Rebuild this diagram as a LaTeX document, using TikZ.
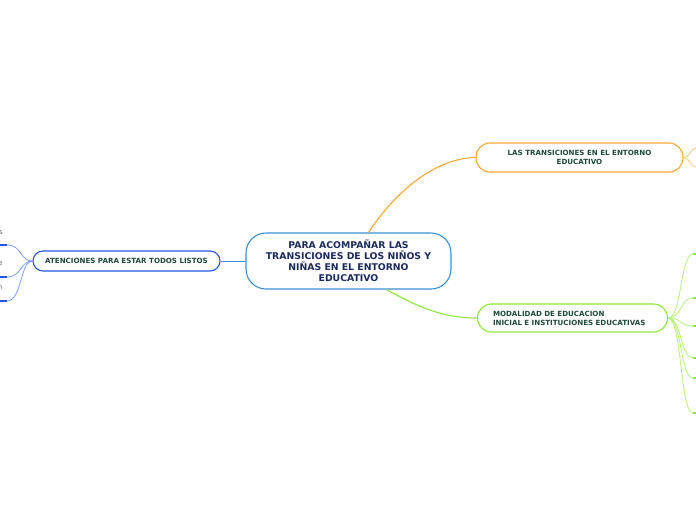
\documentclass[tikz,border=0pt]{standalone}
\usepackage{fontspec}
\setmainfont{DejaVu Sans}
\definecolor{cblue}{HTML}{3A8FD9}
\definecolor{corange}{HTML}{F7A935}
\definecolor{cgreen}{HTML}{8EE83A}
\definecolor{cgreenl}{HTML}{B4F27A}
\definecolor{cdblue}{HTML}{2457E8}
\definecolor{clblue}{HTML}{7F9FFF}
\definecolor{corangel}{HTML}{FAC27A}
\definecolor{tnavy}{HTML}{1B2A5C}
\definecolor{tgreen}{HTML}{1E4A3A}
\begin{document}
\begin{tikzpicture}[x=1pt,y=-1pt,
  mainbox/.style={draw=cblue,line width=1.1pt,fill=white,rounded corners=20pt,
    minimum width=205pt,minimum height=56pt,inner sep=0pt,align=center,text=tnavy,
    font=\bfseries\fontsize{9.3}{11}\selectfont},
  topicbox/.style={line width=1.1pt,fill=white,inner sep=0pt,text=tgreen,
    font=\bfseries\fontsize{7.1}{8.6}\selectfont},
  link/.style={line width=1.1pt},
  sublink/.style={line width=0.8pt},
  stub/.style={line width=1.6pt},
  frag/.style={inner sep=0pt,anchor=east,text=gray!80!black,font=\fontsize{7}{8}\selectfont}
]
\useasboundingbox (0,0) rectangle (696,520);
% central
\node[mainbox] (c) at (348.5,261) {PARA ACOMPAÑAR LAS\\TRANSICIONES DE LOS NIÑOS Y\\NIÑAS EN EL ENTORNO\\EDUCATIVO};
% topics
\node[topicbox,draw=corange,rounded corners=14pt,minimum width=207pt,minimum height=29pt,align=center]
  (o) at (579.5,157.5) {LAS TRANSICIONES EN EL ENTORNO\\EDUCATIVO};
\node[topicbox,draw=cgreen,rounded corners=14pt,minimum width=190pt,minimum height=28pt,
  text width=159pt,align=left,font=\bfseries\fontsize{7.1}{9}\selectfont]
  (g) at (572.5,318) {MODALIDAD DE EDUCACION\\INICIAL E INSTITUCIONES EDUCATIVAS};
\node[topicbox,draw=cdblue,rounded corners=10pt,minimum width=187pt,minimum height=20pt]
  (b) at (126.5,261) {ATENCIONES PARA ESTAR TODOS LISTOS};
% main connectors
\draw[link,corange] (c.55) .. controls (400,185) and (440,158) .. (o.west);
\draw[link,cgreen] (c.-37.5) .. controls (415,305) and (440,318) .. (g.west);
\draw[line width=0.8pt,cblue] (c.west) -- (b.east);
% orange sub-branches
\coordinate (o1) at (696,148);
\coordinate (o2) at (696,167);
\draw[sublink,corangel] (o.east) .. controls (690,158) and (690,148) .. (o1);
\draw[sublink,corangel] (o.east) .. controls (690,158) and (690,167) .. (o2);
% green sub-branches
\foreach \y/\n in {254/1,298/2,326/3,358/4,378/5,413/6}{
  \coordinate (ge\n) at (693,\y);
  \coordinate (gs\n) at (697,\y);
  \draw[sublink,cgreenl] (g.east) .. controls (682,318) and (680,\y) .. (ge\n);
  \draw[stub,cgreen] (ge\n) -- (gs\n);
}
% blue sub-branches
\foreach \y/\n in {245/1,277/2,301/3}{
  \coordinate (be\n) at (7,\y);
  \coordinate (bs\n) at (-1,\y);
  \draw[sublink,clblue] (b.west) .. controls (20,261) and (22,\y) .. (be\n);
  \draw[stub,cdblue] (be\n) -- (bs\n);
}
% clipped child labels
\node[frag] (f1) at (3,233) {s};
\node[frag] (f2) at (3,264) {e};
\node[frag] (f3) at (2.5,288) {n};
\end{tikzpicture}
\end{document}
